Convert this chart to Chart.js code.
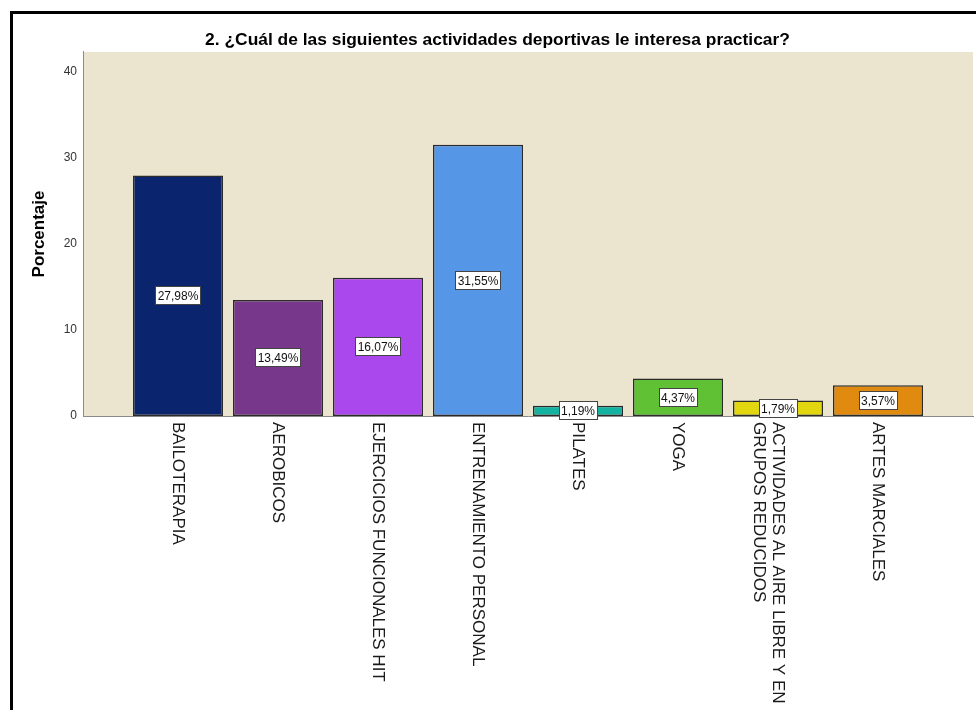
<!DOCTYPE html>
<html>
<head>
<meta charset="utf-8">
<script src="https://cdn.jsdelivr.net/npm/chart.js@4/dist/chart.umd.min.js"></script>
<style>
  html, body { margin: 0; padding: 0; background: #ffffff; }
  #wrap { position: relative; width: 976px; height: 710px; overflow: hidden; }
  #frame { position: absolute; left: 10px; top: 11px; width: 1000px; height: 720px;
           border-top: 3px solid #000; border-left: 3px solid #000; pointer-events: none; }
  canvas { position: absolute; left: 0; top: 0; }
</style>
</head>
<body>
<div id="wrap">
  <canvas id="c" width="976" height="710"></canvas>
  <div id="frame"></div>
</div>
<script>
// ---- data ----
const chartTitle = '2. ¿Cuál de las siguientes actividades deportivas le interesa practicar?';
const yAxisTitle = 'Porcentaje';
const categories = [
  'BAILOTERAPIA',
  'AEROBICOS',
  'EJERCICIOS FUNCIONALES HIT',
  'ENTRENAMIENTO PERSONAL',
  'PILATES',
  'YOGA',
  'ACTIVIDADES AL AIRE LIBRE Y EN GRUPOS REDUCIDOS',
  'ARTES MARCIALES'
];
const categoryTickLabels = [
  'BAILOTERAPIA',
  'AEROBICOS',
  'EJERCICIOS FUNCIONALES HIT',
  'ENTRENAMIENTO PERSONAL',
  'PILATES',
  'YOGA',
  ['ACTIVIDADES AL AIRE LIBRE Y EN', 'GRUPOS REDUCIDOS'],
  'ARTES MARCIALES'
];
const percentages = [27.98, 13.49, 16.07, 31.55, 1.19, 4.37, 1.79, 3.57];
const yTickValues = [0, 10, 20, 30, 40];
const barColors = ['#0b246e', '#77378b', '#aa48ee', '#5596e6', '#14b2a0', '#5fc133', '#e2d611', '#e08a0f'];

// x labels rotated clockwise and starting at the axis
const origAlign = Chart.Scale.prototype._getXAxisLabelAlignment;
Chart.Scale.prototype._getXAxisLabelAlignment = function () {
  if (this.axis === 'x' && this.labelRotation < 0) return 'left';
  return origAlign.call(this);
};

const FONT = "'Liberation Sans', Arial, sans-serif";

const plotBg = {
  id: 'plotBg',
  beforeDraw(chart) {
    const {ctx, chartArea: a} = chart;
    ctx.save();
    ctx.fillStyle = '#ebe4cf';
    ctx.fillRect(a.left, a.top, a.right - a.left, a.bottom - a.top);
    ctx.restore();
  }
};

const valueBoxes = {
  id: 'valueBoxes',
  afterDatasetsDraw(chart) {
    const ctx = chart.ctx;
    const meta = chart.getDatasetMeta(0);
    ctx.save();
    ctx.font = '12px ' + FONT;
    ctx.textAlign = 'center';
    ctx.textBaseline = 'middle';
    meta.data.forEach((bar, i) => {
      const txt = percentages[i].toFixed(2).replace('.', ',') + '%';
      const cx = bar.x;
      const cy = (bar.y + bar.base) / 2;
      const w = Math.round(ctx.measureText(txt).width + 5);
      const h = 19;
      const x0 = Math.round(cx - w / 2), y0 = Math.round(cy - h / 2);
      ctx.fillStyle = '#ffffff';
      ctx.fillRect(x0, y0, w, h);
      ctx.strokeStyle = '#444444';
      ctx.lineWidth = 1;
      ctx.strokeRect(x0 + 0.5, y0 + 0.5, w - 1, h - 1);
      ctx.fillStyle = '#111111';
      ctx.fillText(txt, cx, cy + 1);
    });
    ctx.restore();
  }
};

new Chart(document.getElementById('c'), {
  type: 'bar',
  data: {
    datasets: [{
      data: percentages.map((v, i) => ({x: i, y: v})),
      backgroundColor: barColors,
      borderColor: '#2b2b2b',
      borderWidth: 1.5,
      borderSkipped: false,
      categoryPercentage: 1.0,
      barPercentage: 0.9
    }]
  },
  options: {
    responsive: false,
    animation: false,
    devicePixelRatio: 1,
    layout: { padding: { left: 22, right: 3, top: 0, bottom: 0 } },
    plugins: {
      legend: { display: false },
      tooltip: { enabled: false },
      title: {
        display: true,
        text: chartTitle,
        color: '#000000',
        font: { family: FONT, size: 17.4, weight: 'bold', lineHeight: 1.2 },
        padding: { top: 29.6, bottom: 1.5 }
      }
    },
    scales: {
      x: {
        type: 'linear',
        offset: false,
        min: -0.95,
        max: 7.95,
        grid: { display: false, drawTicks: false },
        border: { display: true, color: '#8a8a8a', width: 1 },
        afterBuildTicks(scale) { scale.ticks = categories.map((c, i) => ({value: i})); },
        afterFit(scale) { scale.height = 294; },
        ticks: {
          autoSkip: false,
          minRotation: -90,
          maxRotation: -90,
          padding: 6,
          color: '#1a1a1a',
          font: { family: FONT, size: 17, lineHeight: 1.12 },
          callback: (v) => categoryTickLabels[v]
        }
      },
      y: {
        min: 0,
        max: 42.33,
        grid: { display: false, drawTicks: false },
        border: { display: true, color: '#8a8a8a', width: 1 },
        afterBuildTicks(scale) { scale.ticks = yTickValues.map(v => ({value: v})); },
        afterFit(scale) { scale.width = 61; },
        ticks: {
          padding: 6,
          color: '#333333',
          font: { family: FONT, size: 12 }
        },
        title: {
          display: true,
          text: yAxisTitle,
          color: '#000000',
          font: { family: FONT, size: 17, weight: 'bold', lineHeight: 1.2 },
          padding: { top: 7, bottom: 0 }
        }
      }
    }
  },
  plugins: [plotBg, valueBoxes]
});
</script>
</body>
</html>
